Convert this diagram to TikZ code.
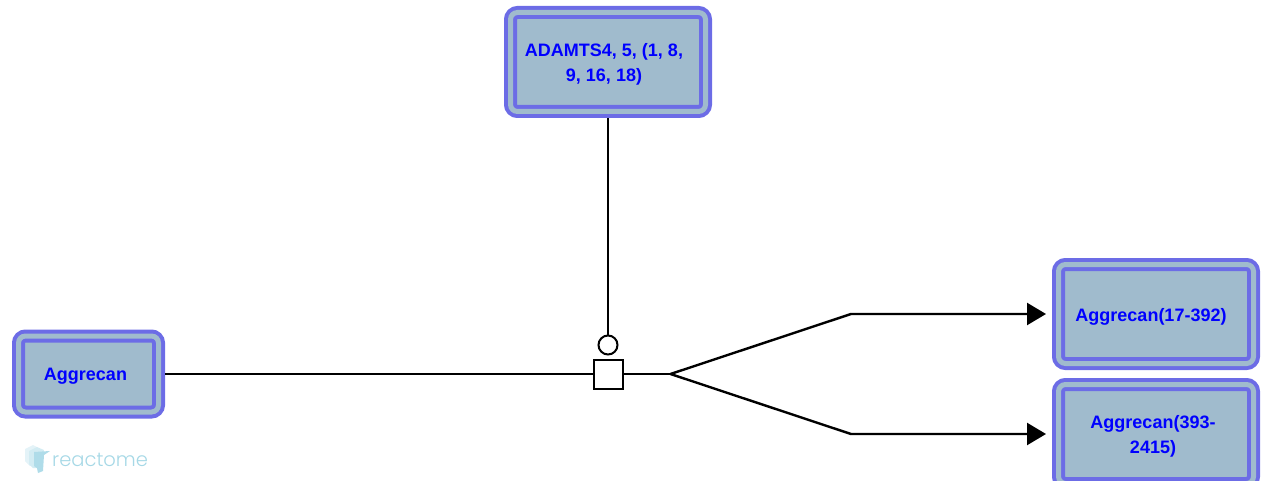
\documentclass[tikz,border=0pt]{standalone}
\usepackage{fontspec}
\setmainfont{Liberation Sans}
\newfontfamily\logofont{Poppins Light}
\usetikzlibrary{arrows.meta}
\definecolor{boxfill}{HTML}{A0BBCD}
\definecolor{boxline}{HTML}{6C6CE6}
\definecolor{logoblue}{HTML}{A6D8E6}

\begin{document}
\begin{tikzpicture}[x=1pt,y=-1pt]
	\tikzstyle{every node}=[inner sep=0pt]
	\tikzstyle{protein}=[draw=boxline,fill=boxfill,line width=4pt,double=boxfill,double distance=5pt,
		rounded corners=7pt,outer sep=6.5pt,text=blue,align=center,
		font=\fontsize{18}{24.5}\selectfont\bfseries]
	\tikzstyle{link}=[line width=2.4pt]
	\tikzstyle{arrowlink}=[link,-{Triangle[length=19pt,width=22pt]},shorten >=6pt]
	\useasboundingbox (0,0) rectangle (1261,481);
	\node[protein,minimum width=140pt,minimum height=76pt,text depth=-2pt] (aggrecan) at (88.5,374) {Aggrecan\kern6pt};
	\node[protein,minimum width=195pt,minimum height=99pt] (adamts) at (608,62) {\rule{0pt}{18pt}ADAMTS4, 5, (1, 8,\kern8pt\\9, 16, 18)\kern8pt};
	\node[protein,minimum width=195pt,minimum height=99pt] (fragmenta) at (1156,314) {\rule{0pt}{19pt}Aggrecan(17-392)\kern10pt};
	\node[protein,minimum width=195pt,minimum height=99pt] (fragmentb) at (1156,434) {\rule{0pt}{18pt}Aggrecan(393-\kern6pt\\2415)\kern6pt};
	\node[draw,line width=2pt,fill=white,minimum size=29pt] (reaction) at (608,374) {};
	\node[draw,line width=2pt,fill=white,circle,minimum size=19pt] (catalyst) at (608,345) {};
	\coordinate (split) at (670.5,374);
	\coordinate (elbowa) at (851,314);
	\coordinate (elbowb) at (851,434);
	\draw[link] (aggrecan) -- (reaction);
	\draw[link] (adamts) -- (catalyst);
	\draw[link] (reaction) -- (split);
	\draw[arrowlink] (split) -- (elbowa) -- (fragmenta);
	\draw[arrowlink] (split) -- (elbowb) -- (fragmentb);
	% logo
	\fill[logoblue!30] (25,449) -- (33,445) -- (37,447) -- (37,465) -- (30,466) -- (25,461) -- cycle;
	\fill[logoblue!50] (29,451) -- (37,447) -- (44,450) -- (41,468) -- (33,468) -- (29,464) -- cycle;
	\fill[logoblue!90] (34,452) -- (50,451) -- (44,455) -- (43,471) -- (38,473) -- (37,468) -- (34,466) -- cycle;
	\node[text=logoblue,font=\logofont\fontsize{19.5}{20}\selectfont,anchor=base west] (logo) at (52,466) {reactome};
\end{tikzpicture}
\end{document}
